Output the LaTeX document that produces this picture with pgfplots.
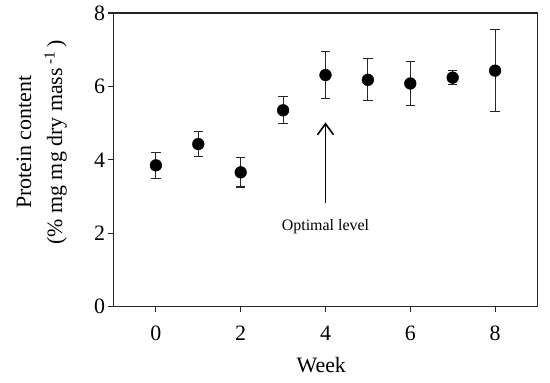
\documentclass[border=0pt]{standalone}
\usepackage{fontspec}
\setmainfont{Liberation Serif}
\usepackage{pgfplots}
\pgfplotsset{compat=1.18}
\usetikzlibrary{arrows.meta}
\begin{document}
\begin{tikzpicture}
\path[use as bounding box] (-113.5bp,-76.3bp) rectangle (436.5bp,306.7bp);
\begin{axis}[
  at={(0,0)}, anchor=south west,
  scale only axis,
  width=424bp, height=293.7bp,
  xmin=-1, xmax=9, ymin=0, ymax=8,
  xtick={0,2,4,6,8}, ytick={0,2,4,6,8},
  axis lines=box,
  tick pos=left, tick align=outside,
  major tick length=5bp,
  axis line style={line width=1.2bp, draw=black!85},
  tick style={line width=1.1bp, color=black!85},
  /pgf/number format/assume math mode=true,
  ticklabel style={font=\fontsize{22}{26}\selectfont},
  xticklabel style={yshift=-11bp},
  xlabel={Week},
  xlabel style={at={(axis description cs:0.49,-0.2257)}, anchor=base, font=\fontsize{22}{26}\selectfont},
  ylabel={Protein content\\(\% mg mg dry mass\textsuperscript{ -1}\,)},
  ylabel style={at={(axis description cs:-0.1097,0.56)}, anchor=south, inner sep=0pt, align=center, font=\fontsize{22}{31}\selectfont},
  clip=false,
]
\addplot+[only marks, mark=*, mark size=5.9bp, color=black, mark options={fill=black},
  error bars/.cd, y dir=both, y explicit,
  error bar style={line width=1.1bp, color=black!85},
  error mark options={rotate=90, mark size=4.7bp, line width=1.1bp, color=black!85}]
coordinates {
  (0,3.85) +- (0,0.35)
  (1,4.43) +- (0,0.33)
  (2,3.66) +- (0,0.40)
  (3,5.35) +- (0,0.37)
  (4,6.31) +- (0,0.64)
  (5,6.18) +- (0,0.57)
  (6,6.08) +- (0,0.59)
  (7,6.24) +- (0,0.19)
  (8,6.43) +- (0,1.12)
};
\draw[line width=1.6bp, -{Straight Barb[length=11bp,width=16bp,line width=1.6bp]}] (axis cs:4,2.82) -- (axis cs:4,5.02);
\node[font=\fontsize{16}{19}\selectfont] at (axis cs:4,2.17) {Optimal level};
\end{axis}
\draw[line width=1.2bp, draw=black!85] (0,0) rectangle (424bp,293.7bp);
\end{tikzpicture}
\end{document}
